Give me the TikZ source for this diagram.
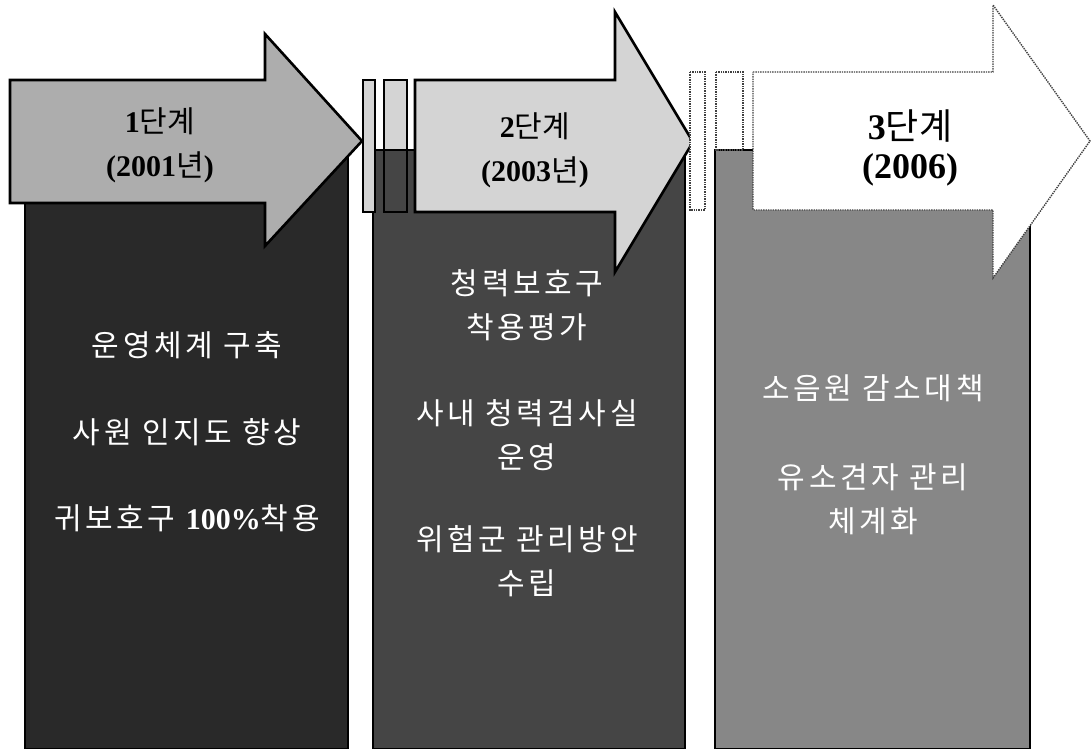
\documentclass[tikz,border=0pt]{standalone}
\usepackage{fontspec}
\setmainfont{Liberation Serif}
\newfontfamily\kor{Noto Sans CJK KR}
\newfontfamily\korwide[LetterSpace=12]{Noto Sans CJK KR}
\newcommand{\hangul}[1]{{\kor\mdseries #1}}

\begin{document}
\begin{tikzpicture}[x=1pt, y=-1pt,
  column/.style={draw=black, line width=1.2pt},
  solidarrow/.style={draw=black, line width=2.6pt, line join=miter},
  grainarrow/.style={draw=black!75, line width=1.4pt, densely dotted, fill=white},
  headtext/.style={align=center, inner sep=0pt, font=\bfseries\fontsize{30}{44}\selectfont},
  bodytext/.style={align=center, inner sep=0pt, text=white, font=\korwide\fontsize{30}{44}\selectfont}
]
\useasboundingbox (0,0) rectangle (1092,749);
\fill[white] (0,0) rectangle (1092,749);

\filldraw[solidarrow, fill=black!17] (384,80) rectangle (407,212);
\filldraw[grainarrow] (716,72) rectangle (743,210);
\fill[column, fill=black!84] (25,150) rectangle (348,749);
\filldraw[column, fill=black!73] (373,150) rectangle (685,749);
\filldraw[column, fill=black!47] (715,150) rectangle (1030,749);
\draw[solidarrow] (384,80) rectangle (407,212);
\draw[grainarrow, fill=none] (716,72) rectangle (743,150);

\filldraw[solidarrow, fill=black!32] (10,80) -- (265,80) -- (265,34) -- (362,141)
  -- (265,246) -- (265,203) -- (10,203) -- cycle;
\filldraw[solidarrow, fill=black!17] (363,80) rectangle (375,212);
\filldraw[solidarrow, fill=black!17] (415,80) -- (615,80) -- (615,12) -- (693,142)
  -- (615,272) -- (615,212) -- (415,212) -- cycle;
\filldraw[grainarrow] (690,72) rectangle (705,210);
\filldraw[grainarrow] (753,72) -- (993,72) -- (993,5) -- (1090,141)
  -- (993,278) -- (993,210) -- (753,210) -- cycle;

\node[headtext] (stage1) at (160,145) {1\hangul{단계}\\(2001\hangul{년})};
\node[headtext] (stage2) at (535,150) {2\hangul{단계}\\(2003\hangul{년})};
\node[headtext, font=\bfseries\fontsize{36}{39}\selectfont] (stage3) at (910,148) {3\hangul{단계}\\(2006)};

\node[bodytext] (setup) at (187,345) {운영체계 구축};
\node[bodytext] (aware) at (187,432) {사원 인지도 향상};
\node[bodytext] (wear) at (187,518) {귀보호구 {\rmfamily\bfseries 100\%}착용};

\node[bodytext] (evaluate) at (527,305) {청력보호구\\착용평가};
\node[bodytext] (testroom) at (527,435) {사내 청력검사실\\운영};
\node[bodytext] (riskgroup) at (527,561) {위험군 관리방안\\수립};

\node[bodytext] (source) at (873,388) {소음원 감소대책};
\node[bodytext] (finding) at (873,499) {유소견자 관리\\체계화};
\end{tikzpicture}
\end{document}
